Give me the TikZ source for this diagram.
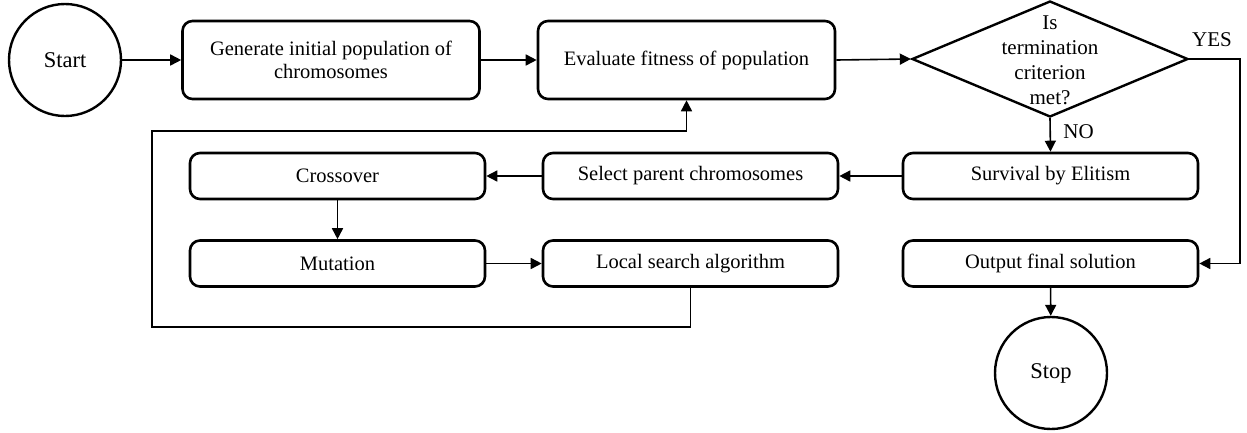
\documentclass[tikz,border=0pt]{standalone}
\usepackage{fontspec}
\setmainfont{Liberation Serif}
\usetikzlibrary{shapes.geometric,arrows.meta}
\begin{document}
\begin{tikzpicture}[x=1pt,y=-1pt,
  txt/.style={font=\fontsize{20.5}{22.5}\selectfont},
  proc/.style={draw, line width=2.6pt, rounded corners=10pt, inner sep=0pt,
    minimum width=295pt, minimum height=46pt, align=center, txt},
  bigproc/.style={proc, minimum width=297pt, minimum height=78pt},
  term/.style={draw, circle, line width=2.4pt, minimum size=112pt, inner sep=0pt,
    font=\fontsize{22.5}{26}\selectfont},
  dec/.style={draw, diamond, line width=2.4pt, minimum width=276pt, minimum height=116pt, inner sep=0pt},
  arr/.style={line width=1.6pt, -{Triangle[length=11pt,width=11pt]}},
  lbl/.style={font=\fontsize{21}{24}\selectfont}]
\useasboundingbox (0,0) rectangle (1247,432);

% terminals
\node[term] (start) at (65,60) {Start};
\node[term] (stop) at (1051,373) {Stop};

% top row
\node[bigproc] (gen) at (331,60) {Generate initial population of\\chromosomes};
\node[bigproc] (eval) at (686.5,60) {Evaluate fitness of population};
\node[dec] (dec) at (1050,59) {};
\node[align=center, font=\fontsize{21}{25}\selectfont] (dectext) at (1050,60) {Is\\termination\\criterion\\met?};

% second row
\node[proc] (surv) at (1050.5,176) {Survival by Elitism};
\node[proc] (sel) at (690.5,176) {Select parent chromosomes};
\node[proc] (cross) at (337.5,176) {Crossover};

% third row
\node[proc] (mut) at (337.5,263.5) {Mutation};
\node[proc] (loc) at (690.5,263.5) {Local search algorithm};
\node[proc] (out) at (1050.5,263.5) {Output final solution};

% loop-back route
\coordinate (fbBL) at (152,327);
\coordinate (fbTL) at (152,131);
\coordinate (yesR) at (1240,59);

% connectors
\draw[arr] (start) -- (gen);
\draw[arr] (gen) -- (eval);
\draw[arr] (eval.east) -- (dec.west);
\draw[arr] (dec.south) -- node[right=9pt, pos=0.4, lbl] (no) {NO} (surv.north);
\draw[arr] (dec.east) -- node[above=8pt, pos=0.45, lbl] (yes) {YES} (yesR) |- (out.east);
\draw[arr] (surv) -- (sel);
\draw[arr] (sel) -- (cross);
\draw[arr] (cross) -- (mut);
\draw[arr] (mut) -- (loc);
\draw[arr] (out) -- (stop);
\draw[arr] (loc.south) |- (fbBL) -- (fbTL) -| (eval.south);
\end{tikzpicture}
\end{document}
